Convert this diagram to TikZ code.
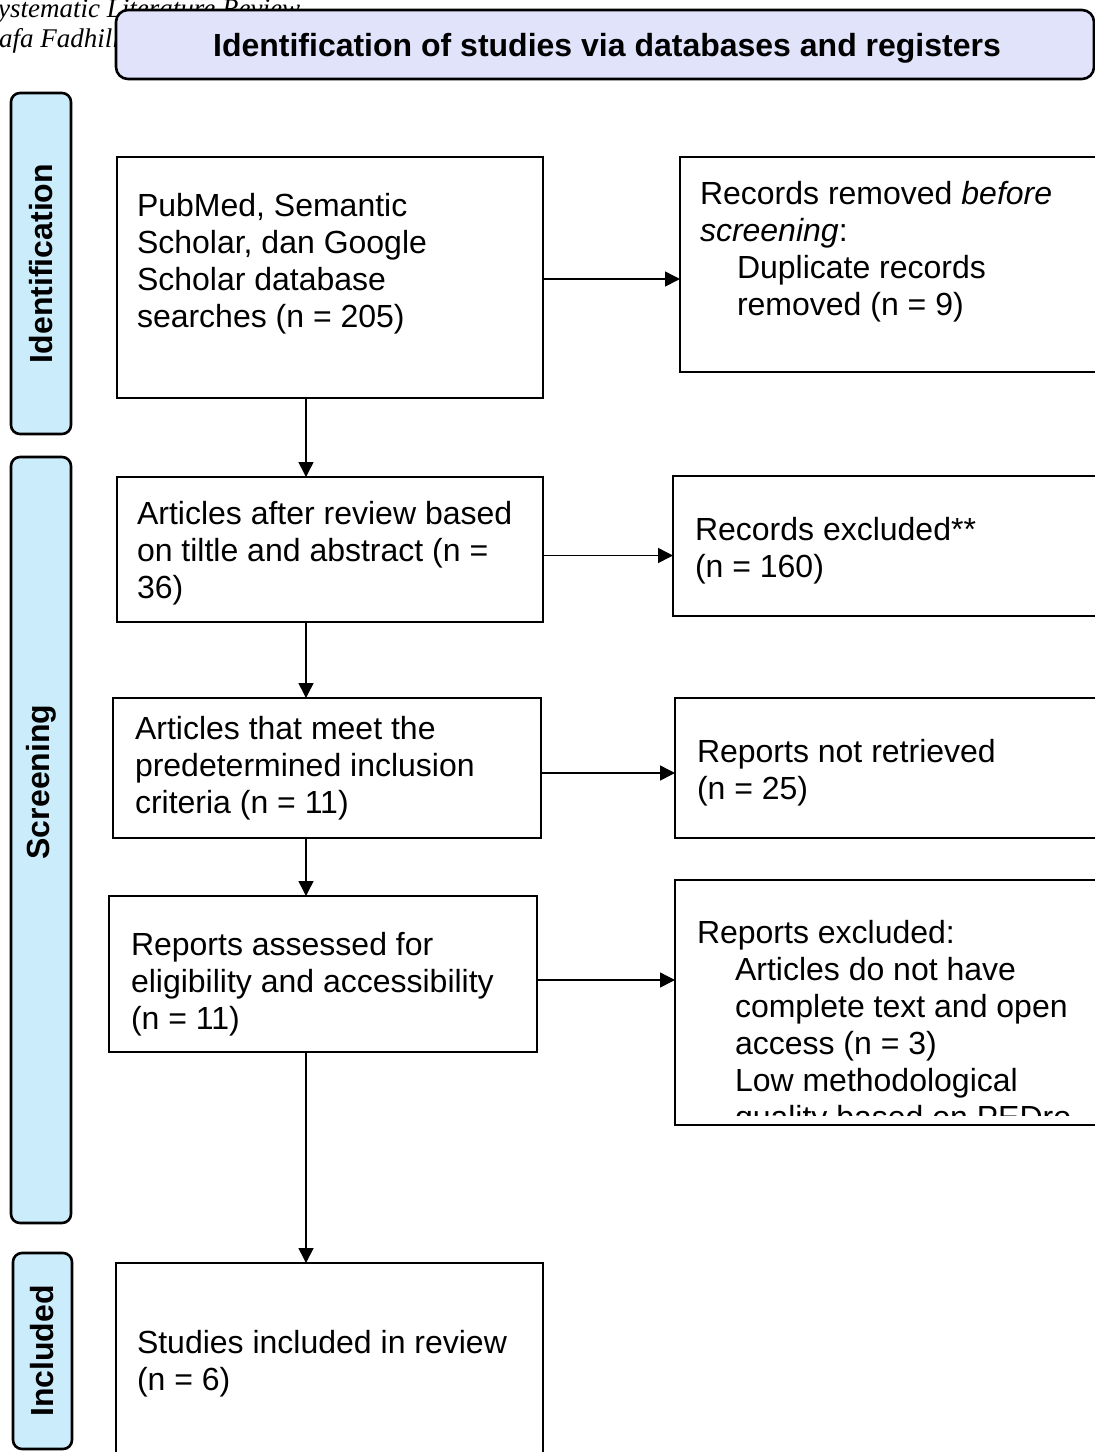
\documentclass[tikz,border=0pt]{standalone}
\usepackage{fontspec}
\setmainfont{Liberation Sans}
\newfontfamily\runfont{Liberation Serif}
\usetikzlibrary{arrows.meta}
\definecolor{hdrfill}{RGB}{224,227,250}
\definecolor{sidefill}{RGB}{202,236,251}
\newcommand\mlines[1]{\vtop{\baselineskip=37pt\lineskiplimit=-100pt\lineskip=0pt #1}}
\begin{document}
\begin{tikzpicture}[x=1pt,y=-1pt,
  box/.style={draw=black,line width=2.6pt,inner sep=0pt,outer sep=0pt,anchor=north west,rectangle},
  sidebox/.style={box,fill=sidefill,rounded corners=9pt},
  hdrbox/.style={box,fill=hdrfill,rounded corners=12pt},
  txt/.style={anchor=base west,inner sep=0pt,outer sep=0pt,font=\fontsize{32}{37}\selectfont},
  sidelbl/.style={rotate=90,inner sep=0pt,font=\bfseries\fontsize{32}{38}\selectfont},
  arr/.style={line width=1.5pt,-{Triangle[length=15pt,width=15pt]}},
  run/.style={anchor=base west,inner sep=0pt,font=\runfont\itshape\fontsize{27}{30}\selectfont}]
\useasboundingbox (0,0) rectangle (1095,1452);
\fill[white] (0,0) rectangle (1095,1452);
% running head (partly hidden)
\node[run] (run1) at (-2,17) {ystematic Literature Review};
\node[run] (run2) at (-1,47) {afa Fadhill};
% header
\node[hdrbox,minimum width=978pt,minimum height=69pt] (hdr) at (116,10) {};
\node[anchor=base,inner sep=0pt,font=\bfseries\fontsize{32}{38}\selectfont] (hdrtxt) at (607,56) {Identification of studies via databases and registers};
% side labels
\node[sidebox,minimum width=60pt,minimum height=341pt] (sideI) at (11,93) {};
\node[sidebox,minimum width=60pt,minimum height=766pt] (sideS) at (11,457) {};
\node[sidebox,minimum width=59pt,minimum height=196pt] (sideN) at (13,1253) {};
\node[sidelbl] (lblI) at (sideI.center) {Identification};
\node[sidelbl] (lblS) at (41,782) {Screening};
\node[sidelbl] (lblN) at (sideN.center) {Included};
% boxes
\node[box,minimum width=426pt,minimum height=241pt] (b1) at (117,157) {};
\node[box,minimum width=420pt,minimum height=215pt] (r1) at (680,157) {};
\node[box,minimum width=426pt,minimum height=145pt] (b2) at (117,477) {};
\node[box,minimum width=427pt,minimum height=140pt] (r2) at (673,476) {};
\node[box,minimum width=428pt,minimum height=140pt] (b3) at (113,698) {};
\node[box,minimum width=425pt,minimum height=140pt] (r3) at (675,698) {};
\node[box,minimum width=428pt,minimum height=156pt] (b4) at (109,896) {};
\node[box,minimum width=427pt,minimum height=207pt] (b5) at (116,1263) {};
% texts
\node[txt] (t1) at (137,216) {\mlines{\hbox{PubMed, Semantic}\hbox{Scholar, dan Google}\hbox{Scholar database}\hbox{searches (n = 205)}}};
\node[txt] (s1) at (700,204) {\mlines{\hbox{Records removed \textit{before}}\hbox{\textit{screening}:}\hbox{\hspace{37pt}Duplicate records}\hbox{\hspace{37pt}removed (n = 9)}}};
\node[txt] (t2) at (137,524) {\mlines{\hbox{Articles after review based}\hbox{on tiltle and abstract (n =}\hbox{36)}}};
\node[txt] (s2) at (695,540) {\mlines{\hbox{Records excluded**}\hbox{(n = 160)}}};
\node[txt] (t3) at (135,739) {\mlines{\hbox{Articles that meet the}\hbox{predetermined inclusion}\hbox{criteria (n = 11)}}};
\node[txt] (s3) at (697,762) {\mlines{\hbox{Reports not retrieved}\hbox{(n = 25)}}};
\node[txt] (t4) at (131,955) {\mlines{\hbox{Reports assessed for}\hbox{eligibility and accessibility}\hbox{(n = 11)}}};
\begin{scope}
\clip (676,881) rectangle (1100,1115);
\node[txt] (s4) at (697,943) {\mlines{\hbox{Reports excluded:}\hbox{\hspace{38pt}Articles do not have}\hbox{\hspace{38pt}complete text and open}\hbox{\hspace{38pt}access (n = 3)}\hbox{\hspace{38pt}Low methodological}\hbox{\hspace{38pt}quality based on PEDro}}};
\end{scope}
\node[box,minimum width=425pt,minimum height=245pt] (r4) at (675,880) {};
\node[txt] (t5) at (137,1353) {\mlines{\hbox{Studies included in review}\hbox{(n = 6)}}};
% connectors
\coordinate (col) at (306,0);
\draw[arr] (b1.south -| col) -- (b2.north -| col);
\draw[arr] (b2.south -| col) -- (b3.north -| col);
\draw[arr] (b3.south -| col) -- (b4.north -| col);
\draw[arr] (b4.south -| col) -- (b5.north -| col);
\coordinate (h1) at ([yshift=-1.5pt]b1.east);
\coordinate (h2) at ([yshift=-6pt]b2.east);
\coordinate (h3) at ([yshift=-5pt]b3.east);
\coordinate (h4) at ([yshift=-6pt]b4.east);
\draw[arr] (h1) -- (h1 -| r1.west);
\draw[arr] (h2) -- (h2 -| r2.west);
\draw[arr] (h3) -- (h3 -| r3.west);
\draw[arr] (h4) -- (h4 -| r4.west);
\end{tikzpicture}
\end{document}
